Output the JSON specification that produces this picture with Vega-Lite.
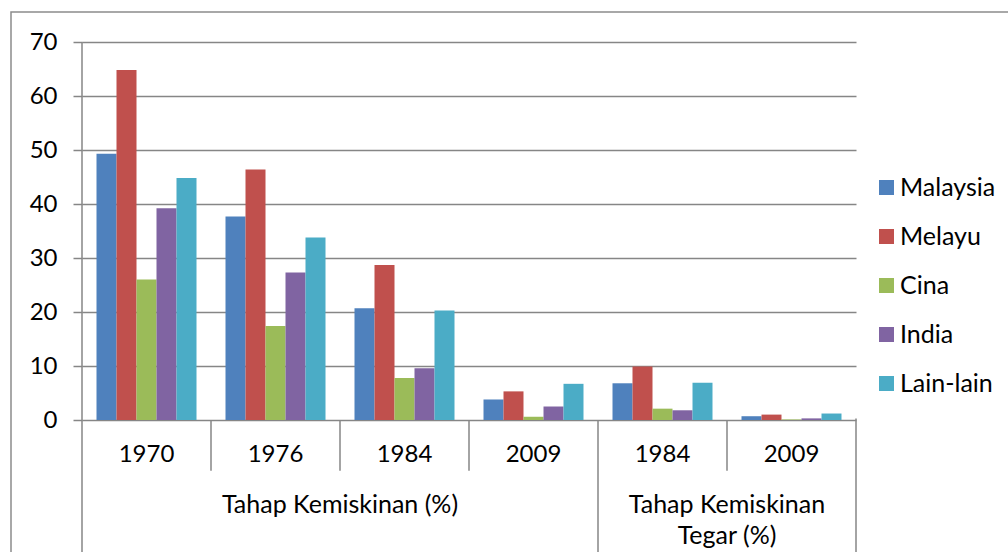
{
  "$schema": "https://vega.github.io/schema/vega-lite/v6.json",
  "width": 1000,
  "height": 545,
  "autosize": {"type": "none"},
  "padding": {"left": 11, "top": 12, "right": 0, "bottom": 0},
  "background": "white",
  "config": {
    "view": {"stroke": "#8c8c8c", "strokeWidth": 1.5},
    "font": "Lato",
    "text": {"font": "Lato", "color": "#000000"}
  },
  "datasets": {
    "bars": [
      {"kategori": "1970", "kaum": "Malaysia", "nilai": 49.3},
      {"kategori": "1970", "kaum": "Melayu", "nilai": 64.8},
      {"kategori": "1970", "kaum": "Cina", "nilai": 26.0},
      {"kategori": "1970", "kaum": "India", "nilai": 39.2},
      {"kategori": "1970", "kaum": "Lain-lain", "nilai": 44.8},
      {"kategori": "1976", "kaum": "Malaysia", "nilai": 37.7},
      {"kategori": "1976", "kaum": "Melayu", "nilai": 46.4},
      {"kategori": "1976", "kaum": "Cina", "nilai": 17.4},
      {"kategori": "1976", "kaum": "India", "nilai": 27.3},
      {"kategori": "1976", "kaum": "Lain-lain", "nilai": 33.8},
      {"kategori": "1984", "kaum": "Malaysia", "nilai": 20.7},
      {"kategori": "1984", "kaum": "Melayu", "nilai": 28.7},
      {"kategori": "1984", "kaum": "Cina", "nilai": 7.8},
      {"kategori": "1984", "kaum": "India", "nilai": 9.6},
      {"kategori": "1984", "kaum": "Lain-lain", "nilai": 20.3},
      {"kategori": "2009", "kaum": "Malaysia", "nilai": 3.8},
      {"kategori": "2009", "kaum": "Melayu", "nilai": 5.3},
      {"kategori": "2009", "kaum": "Cina", "nilai": 0.6},
      {"kategori": "2009", "kaum": "India", "nilai": 2.5},
      {"kategori": "2009", "kaum": "Lain-lain", "nilai": 6.7},
      {"kategori": "1984T", "kaum": "Malaysia", "nilai": 6.8},
      {"kategori": "1984T", "kaum": "Melayu", "nilai": 9.9},
      {"kategori": "1984T", "kaum": "Cina", "nilai": 2.1},
      {"kategori": "1984T", "kaum": "India", "nilai": 1.8},
      {"kategori": "1984T", "kaum": "Lain-lain", "nilai": 6.9},
      {"kategori": "2009T", "kaum": "Malaysia", "nilai": 0.7},
      {"kategori": "2009T", "kaum": "Melayu", "nilai": 1.0},
      {"kategori": "2009T", "kaum": "Cina", "nilai": 0.1},
      {"kategori": "2009T", "kaum": "India", "nilai": 0.3},
      {"kategori": "2009T", "kaum": "Lain-lain", "nilai": 1.2}
    ],
    "cats": [
      {"kategori": "1970", "label": "1970"},
      {"kategori": "1976", "label": "1976"},
      {"kategori": "1984", "label": "1984"},
      {"kategori": "2009", "label": "2009"},
      {"kategori": "1984T", "label": "1984"},
      {"kategori": "2009T", "label": "2009"}
    ],
    "groups": [
      {"kategori": "1984", "label": "Tahap Kemiskinan (%)"},
      {"kategori": "2009T", "label": "Tahap Kemiskinan\nTegar (%)"}
    ]
  },
  "layer": [
    {
      "data": {"name": "bars"},
      "mark": {"type": "bar"},
      "encoding": {
        "x": {
          "field": "kategori", "type": "nominal",
          "scale": {"type": "band", "domain": ["1970", "1976", "1984", "2009", "1984T", "2009T"], "range": [71, 845], "paddingInner": 0, "paddingOuter": 0},
          "axis": null
        },
        "xOffset": {
          "field": "kaum", "type": "nominal",
          "scale": {"domain": ["Malaysia", "Melayu", "Cina", "India", "Lain-lain"], "paddingInner": 0, "paddingOuter": 0.725}
        },
        "y": {
          "field": "nilai", "type": "quantitative",
          "scale": {"domain": [0, 70], "range": [408, 30], "nice": false, "zero": false},
          "axis": {
            "values": [0, 10, 20, 30, 40, 50, 60, 70],
            "title": null,
            "offset": -71,
            "domain": false,
            "grid": true,
            "gridColor": "#868686",
            "gridWidth": 1.5,
            "ticks": true,
            "tickSize": 9,
            "tickColor": "#868686",
            "tickWidth": 1.5,
            "labelFont": "Lato",
            "labelFontSize": 24,
            "labelColor": "#000000",
            "labelPadding": 16
          }
        },
        "color": {
          "field": "kaum", "type": "nominal",
          "scale": {"domain": ["Malaysia", "Melayu", "Cina", "India", "Lain-lain"], "range": ["#4F81BD", "#C0504D", "#9BBB59", "#8064A2", "#4BACC6"]},
          "legend": {
            "orient": "none",
            "legendX": 863,
            "legendY": 163,
            "title": null,
            "padding": 0,
            "symbolType": "square",
            "symbolSize": 225,
            "symbolStrokeWidth": 0,
            "labelFont": "Lato",
            "labelFontSize": 25,
            "labelColor": "#000000",
            "labelOffset": 1,
            "rowPadding": 23
          }
        }
      }
    },
    {
      "data": {"name": "cats"},
      "transform": [{"filter": "datum.kategori === '1976' || datum.kategori === '1984' || datum.kategori === '2009' || datum.kategori === '2009T'"}],
      "mark": {"type": "rule", "color": "#868686", "strokeWidth": 1.5},
      "encoding": {
        "x": {"field": "kategori", "type": "nominal", "bandPosition": 0},
        "y": {"datum": 0},
        "y2": {"datum": -9.4}
      }
    },
    {
      "data": {"name": "cats"},
      "transform": [{"filter": "datum.kategori === '1970'"}],
      "mark": {"type": "rule", "color": "#868686", "strokeWidth": 1.5},
      "encoding": {
        "x": {"field": "kategori", "type": "nominal", "bandPosition": 0},
        "y": {"datum": 70},
        "y2": {"datum": -30}
      }
    },
    {
      "data": {"name": "cats"},
      "transform": [{"filter": "datum.kategori === '1984T'"}],
      "mark": {"type": "rule", "color": "#868686", "strokeWidth": 1.5},
      "encoding": {
        "x": {"field": "kategori", "type": "nominal", "bandPosition": 0},
        "y": {"datum": 0},
        "y2": {"datum": -30}
      }
    },
    {
      "data": {"name": "cats"},
      "transform": [{"filter": "datum.kategori === '2009T'"}],
      "mark": {"type": "rule", "color": "#868686", "strokeWidth": 1.5},
      "encoding": {
        "x": {"field": "kategori", "type": "nominal", "bandPosition": 1},
        "y": {"datum": 0.3},
        "y2": {"datum": -30}
      }
    },
    {
      "data": {"name": "cats"},
      "mark": {"type": "text", "fontSize": 24, "baseline": "alphabetic", "align": "center", "color": "#000000"},
      "encoding": {
        "x": {"field": "kategori", "type": "nominal"},
        "y": {"datum": -7.8},
        "text": {"field": "label", "type": "nominal"}
      }
    },
    {
      "data": {"name": "groups"},
      "mark": {"type": "text", "fontSize": 25, "baseline": "alphabetic", "align": "center", "color": "#000000", "lineBreak": "\n", "lineHeight": 31},
      "encoding": {
        "x": {"field": "kategori", "type": "nominal", "bandPosition": 0},
        "y": {"datum": -17.2},
        "text": {"field": "label", "type": "nominal"}
      }
    }
  ]
}
